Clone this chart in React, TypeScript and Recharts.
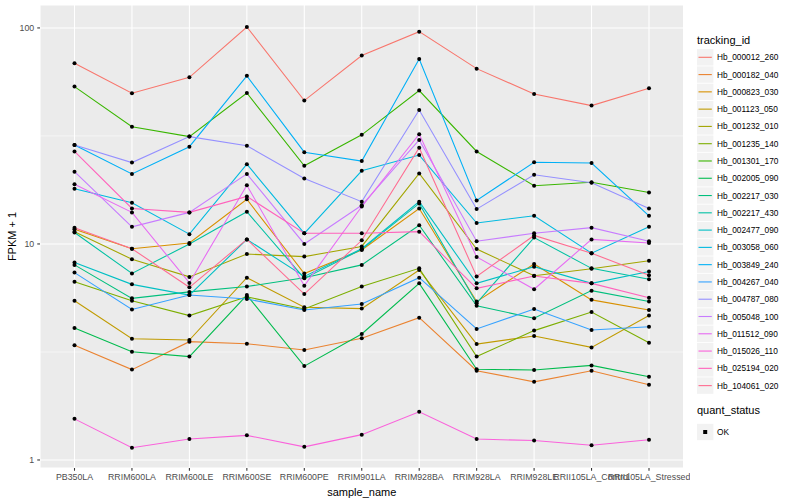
import React from 'react';
import { LineChart, Line, XAxis, YAxis, CartesianGrid, ReferenceLine, Label } from 'recharts';

const categories = [
  'PB350LA', 'RRIM600LA', 'RRIM600LE', 'RRIM600SE', 'RRIM600PE', 'RRIM901LA',
  'RRIM928BA', 'RRIM928LA', 'RRIM928LE', 'RRII105LA_Control', 'RRII105LA_Stressed',
];

// FPKM + 1 per sample
const hb000012_260 = [68.6, 49.9, 59.1, 101, 46.1, 74.5, 96.1, 64.8, 49.5, 43.7, 52.6];
const hb000182_040 = [3.4, 2.62, 3.53, 3.45, 3.23, 3.66, 4.56, 2.59, 2.3, 2.59, 2.23];
const hb000823_030 = [11.7, 9.5, 10.1, 16.1, 7.3, 9.38, 14.6, 5.41, 8.08, 5.51, 4.95];
const hb001123_050 = [5.46, 3.64, 3.59, 6.98, 5.09, 5.02, 7.58, 3.44, 3.75, 3.32, 4.66];
const hb001232_010 = [11.4, 8.5, 7.04, 8.98, 8.74, 9.74, 21.2, 9.47, 7.13, 7.67, 8.36];
const hb001235_140 = [6.69, 5.46, 4.66, 5.69, 5.0, 6.35, 7.71, 3.01, 3.97, 4.84, 3.49];
const hb001301_170 = [53.5, 34.9, 31.4, 50.0, 23.0, 32.0, 51.3, 26.8, 18.6, 19.3, 17.3];
const hb002005_090 = [4.08, 3.17, 3.01, 5.8, 2.72, 3.83, 6.57, 2.63, 2.61, 2.74, 2.43];
const hb002217_030 = [8.0, 5.6, 6.0, 6.35, 6.98, 8.0, 12.2, 5.17, 4.53, 6.08, 5.41];
const hb002217_430 = [11.3, 7.3, 10.0, 14.1, 6.93, 9.44, 15.4, 5.32, 10.7, 7.71, 6.86];
const hb002477_090 = [8.2, 6.5, 5.8, 10.5, 7.07, 9.5, 15.7, 6.57, 7.85, 6.57, 7.45];
const hb003058_060 = [18.0, 15.5, 11.1, 23.4, 11.2, 21.8, 25.8, 12.5, 13.5, 9.06, 12.0];
const hb003849_240 = [28.7, 21.1, 28.2, 60.0, 26.6, 24.2, 71.8, 15.9, 23.9, 23.7, 13.5];
const hb004267_040 = [7.37, 4.97, 5.8, 5.56, 4.95, 5.27, 6.98, 4.04, 5.0, 4.0, 4.14];
const hb004787_080 = [28.7, 23.8, 31.4, 28.5, 20.1, 15.7, 41.7, 14.5, 20.9, 19.2, 14.6];
const hb005048_100 = [21.6, 12.0, 14.0, 21.1, 10.0, 15.1, 30.3, 10.3, 11.2, 11.9, 10.3];
const hb011512_090 = [18.9, 14.0, 6.6, 18.7, 6.4, 14.9, 32.2, 8.71, 6.17, 10.5, 10.1];
const hb015026_110 = [1.55, 1.14, 1.25, 1.3, 1.15, 1.31, 1.67, 1.25, 1.23, 1.17, 1.24];
const hb025194_020 = [26.8, 14.6, 14.0, 16.6, 11.2, 11.2, 11.4, 6.23, 7.1, 6.57, 5.64];
const hb104061_020 = [11.9, 9.5, 6.3, 10.5, 5.86, 10.4, 27.9, 7.07, 10.95, 9.06, 7.16];

const yTicks = [1, 10, 100];
const yMinor = [Math.sqrt(10), Math.sqrt(1000)];

const series = [
  { id: 'Hb_000012_260', color: '#F8766D', values: hb000012_260 },
  { id: 'Hb_000182_040', color: '#EA8331', values: hb000182_040 },
  { id: 'Hb_000823_030', color: '#D89000', values: hb000823_030 },
  { id: 'Hb_001123_050', color: '#C09B00', values: hb001123_050 },
  { id: 'Hb_001232_010', color: '#A3A500', values: hb001232_010 },
  { id: 'Hb_001235_140', color: '#7CAE00', values: hb001235_140 },
  { id: 'Hb_001301_170', color: '#39B600', values: hb001301_170 },
  { id: 'Hb_002005_090', color: '#00BB4E', values: hb002005_090 },
  { id: 'Hb_002217_030', color: '#00BF7D', values: hb002217_030 },
  { id: 'Hb_002217_430', color: '#00C1A3', values: hb002217_430 },
  { id: 'Hb_002477_090', color: '#00BFC4', values: hb002477_090 },
  { id: 'Hb_003058_060', color: '#00BAE0', values: hb003058_060 },
  { id: 'Hb_003849_240', color: '#00B0F6', values: hb003849_240 },
  { id: 'Hb_004267_040', color: '#35A2FF', values: hb004267_040 },
  { id: 'Hb_004787_080', color: '#9590FF', values: hb004787_080 },
  { id: 'Hb_005048_100', color: '#C77CFF', values: hb005048_100 },
  { id: 'Hb_011512_090', color: '#E76BF3', values: hb011512_090 },
  { id: 'Hb_015026_110', color: '#FA62DB', values: hb015026_110 },
  { id: 'Hb_025194_020', color: '#FF62BC', values: hb025194_020 },
  { id: 'Hb_104061_020', color: '#FF6C91', values: hb104061_020 },
];

const rows = categories.map((sample, i) => {
  const row: Record<string, string | number> = { sample };
  series.forEach(s => { row[s.id] = s.values[i]; });
  return row;
});

const FONT = '"Liberation Sans", Arial, Helvetica, sans-serif';
const tickStyle = { fontSize: 8.8, fill: '#4D4D4D', fontFamily: FONT };

const renderDot = (props: any) => (
  <circle key={`${props.dataKey}-${props.index}`} cx={props.cx} cy={props.cy} r={2} fill="#000" />
);

const KEY_TOP = 57.3;
const KEY_STEP = 17.28;

const Legends = () => (
  <svg width={110} height={500} style={{ position: 'absolute', left: 690, top: 0 }} fontFamily={FONT}>
    <text x={7} y={40} fontSize={11} dominantBaseline="central" fill="#000">tracking_id</text>
    {series.map((s, i) => {
      const cy = KEY_TOP + i * KEY_STEP;
      return (
        <g key={s.id}>
          <rect x={7} y={cy - 8.2} width={16.4} height={16.4} fill="#F2F2F2" />
          <line x1={8.5} x2={21.8} y1={cy} y2={cy} stroke={s.color} strokeWidth={1.1} />
          <text x={27} y={cy} fontSize={8.3} dominantBaseline="central" fill="#000">{s.id}</text>
        </g>
      );
    })}
    <text x={7} y={410} fontSize={11} dominantBaseline="central" fill="#000">quant_status</text>
    <rect x={7} y={423.8} width={16.4} height={16.4} fill="#F2F2F2" />
    <rect x={13.2} y={430} width={4} height={4} fill="#000" />
    <text x={27} y={432} fontSize={8.3} dominantBaseline="central" fill="#000">OK</text>
  </svg>
);

const YTitle = (props: any) => {
  const vb = props.viewBox || {};
  const cy = (vb.y || 0) + (vb.height || 0) / 2;
  return (
    <text x={12} y={cy} fontSize={11} fontFamily={FONT} textAnchor="middle" dominantBaseline="central"
      transform={`rotate(-90 12 ${cy})`} fill="#000">FPKM + 1</text>
  );
};

export default function App() {
  return (
    <div style={{ position: 'absolute', left: 0, top: 0, width: 800, height: 500, background: '#fff' }}>
      <LineChart width={690} height={500} data={rows} margin={{ top: 5, right: 6.5, left: 0, bottom: 0 }}>
        <CartesianGrid fill="#EBEBEB" stroke="#FFFFFF" strokeWidth={1.07} />
        {yMinor.map(v => (
          <ReferenceLine key={v} y={v} stroke="#FFFFFF" strokeWidth={0.53} />
        ))}
        <XAxis dataKey="sample" scale="point" padding={{ left: 34.5, right: 34.5 }} height={32}
          interval={0} axisLine={false} tickSize={2.75} tickMargin={3.5}
          tickLine={{ stroke: '#333333', strokeWidth: 1.07 }} tick={tickStyle}>
          <Label value="sample_name" position="insideBottom" offset={4}
            style={{ fontSize: 11, fill: '#000', fontFamily: FONT }} />
        </XAxis>
        <YAxis type="number" scale="log" domain={[0.918, 127.7]} allowDataOverflow ticks={yTicks}
          width={40} axisLine={false} tickSize={2.75} tickMargin={3}
          tickLine={{ stroke: '#333333', strokeWidth: 1.07 }} tick={tickStyle}
          tickFormatter={(v: number) => String(v)}>
          <Label content={<YTitle />} />
        </YAxis>
        {series.map(s => (
          <Line key={s.id} type="linear" dataKey={s.id} stroke={s.color} strokeWidth={1.07}
            dot={false} activeDot={false} isAnimationActive={false} />
        ))}
        {series.map(s => (
          <Line key={`pt-${s.id}`} type="linear" dataKey={s.id} stroke="none"
            dot={renderDot} activeDot={false} isAnimationActive={false} legendType="none" />
        ))}
      </LineChart>
      <Legends />
    </div>
  );
}
